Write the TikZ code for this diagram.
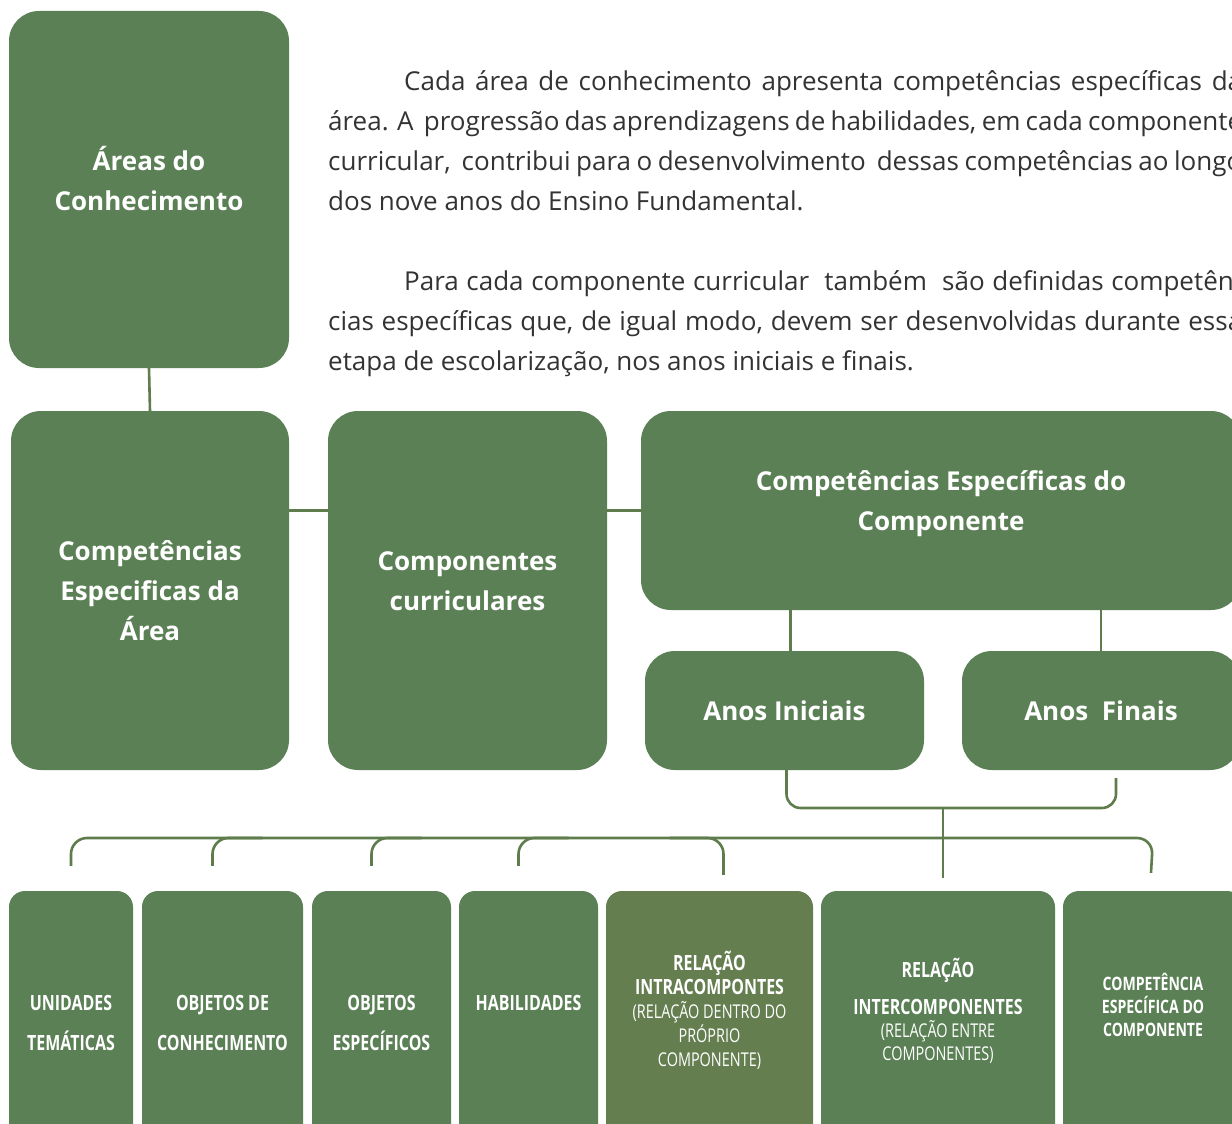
\documentclass[tikz,border=0pt]{standalone}
\usepackage{fontspec}
\setmainfont{Open Sans}
\newfontfamily\estreita[FakeStretch=0.76]{Open Sans}

\definecolor{verde}{RGB}{91,128,85}
\definecolor{oliva}{RGB}{100,126,80}
\definecolor{traco}{RGB}{94,124,76}
\definecolor{texto}{RGB}{51,51,51}

\tikzset{
    caixa/.style={fill=verde, rounded corners=30pt, text=white, align=center, inner sep=0pt,
        font=\bfseries\fontsize{26}{40}\selectfont},
    caixinha/.style={fill=verde, rounded corners=16pt, text=white, align=center, inner sep=0pt,
        minimum height=264pt, font=\estreita\bfseries\fontsize{21}{40}\selectfont},
    paragrafo/.style={anchor=north west, inner sep=0pt, align=left, text=texto,
        font=\fontsize{26}{40}\selectfont},
    liga/.style={draw=traco, line width=2.6pt},
}
\newcommand\linha[1]{\makebox[914pt][s]{#1}}

\begin{document}
\begin{tikzpicture}[x=1pt, y=-1pt]
    \useasboundingbox (0,0) rectangle (1232,1124);
    \clip (0,0) rectangle (1232,1124);
    \fill[white] (0,0) rectangle (1232,1124);

    % caixas de cima
    \node[caixa, minimum width=280pt, minimum height=357pt, text depth=22pt] (areas) at (149,189.5) {Áreas do\\Conhecimento};
    \node[caixa, minimum width=278pt, minimum height=359pt, text depth=-22pt] (compArea) at (150,590.5) {Competências\\Especificas da\\Área};
    \node[caixa, minimum width=279pt, minimum height=359pt, text depth=18pt] (componentes) at (467.5,590.5) {Componentes\\curriculares};
    \node[caixa, minimum width=600pt, minimum height=199pt, text depth=20pt] (compComp) at (941,510.5) {Competências Específicas do\\Componente};
    \node[caixa, minimum width=279pt, minimum height=119pt, text depth=-22pt] (iniciais) at (784.5,710.5) {Anos Iniciais};
    \node[caixa, minimum width=278pt, minimum height=119pt, text depth=-22pt] (finais) at (1101,710.5) {Anos\ \ Finais};

    % texto
    \node[paragrafo] (par1) at (328,70)
        {\linha{\hspace*{76pt}Cada área de conhecimento apresenta competências específicas da}\\
         \linha{área. A\ \ progressão das aprendizagens de habilidades, em cada componente}\\
         \linha{curricular,\ \ contribui para o desenvolvimento\ \ dessas competências ao longo}\\
         dos nove anos do Ensino Fundamental.};
    \node[paragrafo] (par2) at (328,270)
        {\linha{\hspace*{76pt}Para cada componente curricular\ \ também\ \ são definidas competên-}\\
         \linha{cias específicas que, de igual modo, devem ser desenvolvidas durante essa}\\
         etapa de escolarização, nos anos iniciais e finais.};

    % caixas de baixo
    \node[caixinha, minimum width=124pt] (unidades) at (71,1023) {UNIDADES\\TEMÁTICAS};
    \node[caixinha, minimum width=161pt] (objetos) at (222.5,1023) {OBJETOS DE\\CONHECIMENTO};
    \node[caixinha, minimum width=139pt] (especificos) at (381.5,1023) {OBJETOS\\ESPECÍFICOS};
    \node[caixinha, minimum width=139pt] (habilidades) at (528.5,1023) {HABILIDADES\\\phantom{X}};
    \node[caixinha, fill=oliva, minimum width=207pt, font=\estreita\fontsize{19}{24}\selectfont] (intra) at (709.5,1023)
        {{\fontsize{21}{24}\selectfont\bfseries RELAÇÃO}\\{\fontsize{21}{26}\selectfont\bfseries INTRACOMPONTES}\\(RELAÇÃO DENTRO DO\\PRÓPRIO\\COMPONENTE)\\[4pt]};
    \node[caixinha, minimum width=234pt, font=\estreita\fontsize{19}{23}\selectfont] (inter) at (938,1023)
        {{\fontsize{21}{23}\selectfont\bfseries RELAÇÃO}\\[14pt]{\fontsize{21}{23}\selectfont\bfseries INTERCOMPONENTES}\\(RELAÇÃO ENTRE\\COMPONENTES)\\[4pt]};
    \node[caixinha, minimum width=180pt, font=\estreita\bfseries\fontsize{18.5}{23}\selectfont] (compet) at (1153,1023)
        {COMPETÊNCIA\\ESPECÍFICA DO\\COMPONENTE\\[14pt]};

    % ligacoes
    \draw[liga] (areas.south) -- (compArea.north);
    \draw[liga] (compArea.east |- compComp.west) -- (componentes.west |- compComp.west);
    \draw[liga] (componentes.east |- compComp.west) -- (compComp.west);
    \draw[liga] ([xshift=6pt]compComp.south -| iniciais.north) -- ([xshift=6pt]iniciais.north);
    \draw[liga] (compComp.south -| finais.north) -- (finais.north);

    \coordinate (junta) at (943,808);
    \coordinate (barra) at (0,838);
    \draw[liga, rounded corners=14pt] ([xshift=2pt]iniciais.south) |- (junta) -| ([xshift=15pt,yshift=-8pt]finais.south);
    \draw[liga] (junta) -- ([yshift=13pt]inter.north -| junta);

    \draw[liga, rounded corners=16pt] ([yshift=25pt]unidades.north) |- (barra -| compet.north) -- ([yshift=18pt,xshift=-2pt]compet.north);
    \foreach \caixa in {objetos, especificos, habilidades}
        \draw[liga, rounded corners=16pt] ([xshift=-10pt,yshift=25pt]\caixa.north) |- ([xshift=40pt]\caixa.north |- barra);
    \draw[liga, rounded corners=16pt] ([xshift=-40pt]intra.north |- barra) -| ([xshift=14pt,yshift=16pt]intra.north);
\end{tikzpicture}
\end{document}
